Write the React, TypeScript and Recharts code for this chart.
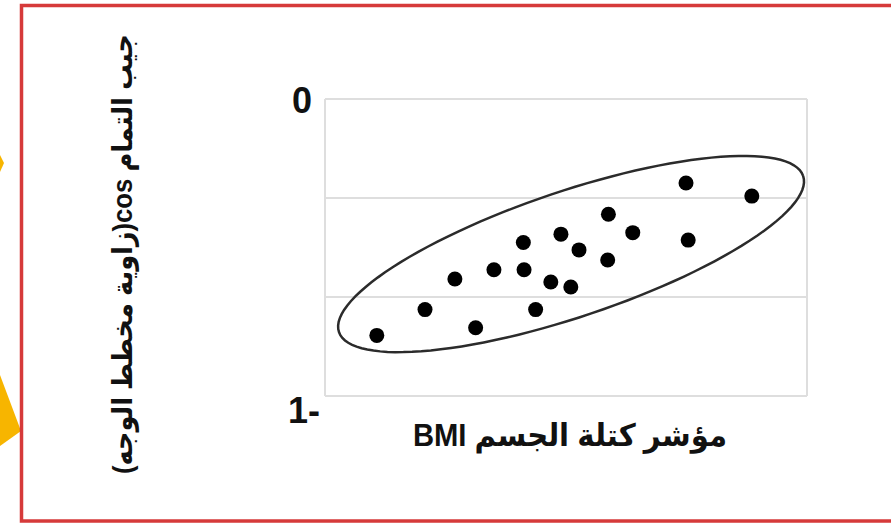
import React from 'react';
import { ScatterChart, Scatter, XAxis, YAxis, CartesianGrid } from 'recharts';

// BMI (x) against cos of the face-profile angle (y)
const bmi = [17.15, 19.15, 20.39, 21.25, 22.01, 23.23, 23.26, 23.74, 24.37, 24.79, 25.2, 25.54, 26.76, 26.73, 27.77, 29.98, 30.07, 32.71];
const cosAngle = [-0.796, -0.709, -0.606, -0.77, -0.575, -0.483, -0.575, -0.709, -0.616, -0.455, -0.633, -0.508, -0.388, -0.542, -0.45, -0.283, -0.475, -0.327];

const xTicks = [15, 25, 35];
const yTicks = [0, -1 / 3, -2 / 3, -1];
const yTickText = ['0', '', '', '1-'];

// the hand-drawn ring around the cloud: centre, semi-major and semi-minor vectors (data units)
const ringCentre = [25.21, -0.522];
const ringMajor = [9.63, 0.263];
const ringMinor = [0.84, -0.2];

const points = bmi.map((x, i) => ({ x, y: cosAngle[i] }));

const ring = Array.from({ length: 121 }, (_, i) => {
  const t = (i / 120) * Math.PI * 2;
  return {
    x: ringCentre[0] + ringMajor[0] * Math.cos(t) + ringMinor[0] * Math.sin(t),
    y: ringCentre[1] + ringMajor[1] * Math.cos(t) + ringMinor[1] * Math.sin(t),
  };
});

const font = '"Liberation Sans", Arial, "DejaVu Sans", sans-serif';

const YTick = (props: any) => {
  const { x, y, payload } = props;
  const idx = yTicks.findIndex((t) => Math.abs(t - payload.value) < 1e-6);
  const text = idx >= 0 ? yTickText[idx] : '';
  if (!text) return null;
  const low = payload.value < -0.5;
  return (
    <text x={x + (low ? 8 : 0)} y={y + (low ? 14 : 1)} textAnchor="end" dominantBaseline="central"
      fontFamily={font} fontWeight="bold" fontSize={36} fill="#111">
      {text}
    </text>
  );
};

const App: React.FC = () => {
  return (
    <div style={{ position: 'fixed', left: 0, top: 0, width: 891, height: 531, background: '#fff', overflow: 'hidden' }}>
      <ScatterChart width={891} height={531} margin={{ top: 99, right: 84, bottom: 105, left: 265 }}>
        <CartesianGrid stroke="#dedede" strokeWidth={2} />
        <XAxis type="number" dataKey="x" domain={[15, 35]} ticks={xTicks} tick={false}
          axisLine={false} tickLine={false} height={30} />
        <YAxis type="number" dataKey="y" domain={[-1, 0]} ticks={yTicks} tick={<YTick />}
          axisLine={false} tickLine={false} tickSize={0} tickMargin={13} width={60} />
        <Scatter data={ring} line={{ stroke: '#2b2b2b', strokeWidth: 2.5 }} shape={() => <g />}
          isAnimationActive={false} />
        <Scatter data={points} fill="#000" isAnimationActive={false}
          shape={(p: any) => <circle cx={p.cx} cy={p.cy} r={7.5} fill="#000" />} />
      </ScatterChart>

      <svg width={891} height={531} style={{ position: 'absolute', left: 0, top: 0, pointerEvents: 'none' }}>
        <polygon points="0,375 21,431 0,446" fill="#f7b500" />
        <polygon points="0,155 4,163 0,172" fill="#f7b500" />
        <rect x={21.5} y={5.5} width={875} height={515.5} fill="none" stroke="#d63a3a" strokeWidth={3.5} />
        <text x={122} y={254} transform="rotate(-90 122 254)" textAnchor="middle" dominantBaseline="central"
          direction="rtl" fontFamily={font} fontWeight="bold" fontSize={28} fill="#111"
          textLength={440} lengthAdjust="spacingAndGlyphs">
          جيب التمام cos(زاوية مخطط الوجه)
        </text>
        <text x={570} y={435} textAnchor="middle" dominantBaseline="central" direction="rtl"
          fontFamily={font} fontWeight="bold" fontSize={31} fill="#111"
          textLength={314} lengthAdjust="spacingAndGlyphs">
          مؤشر كتلة الجسم BMI
        </text>
      </svg>
    </div>
  );
};

export default App;
